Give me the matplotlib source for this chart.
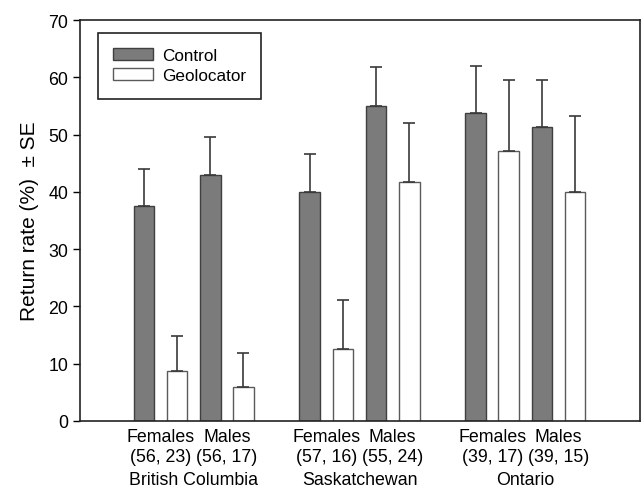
import numpy as np
import matplotlib.pyplot as plt

plt.rcParams['font.family'] = ['Liberation Sans', 'DejaVu Sans']

# ------------------- data -------------------
regions = ['British Columbia', 'Saskatchewan', 'Ontario']
sex_labels = ['Females', 'Males', 'Females', 'Males', 'Females', 'Males']
sample_sizes = ['(56, 23)', '(56, 17)', '(57, 16)', '(55, 24)', '(39, 17)', '(39, 15)']

control = [37.5, 42.9, 40.0, 55.0, 53.8, 51.4]
control_se = [6.5, 6.7, 6.6, 6.8, 8.2, 8.1]
geolocator = [8.7, 6.0, 12.6, 41.7, 47.1, 40.0]
geolocator_se = [6.1, 5.9, 8.5, 10.3, 12.5, 13.2]

# ------------------- layout -------------------
# two pairs per region, one empty slot between regions
pair_start = np.array([0, 2, 5, 7, 10, 12])
x_ctrl = pair_start
x_geo = pair_start + 1
width = 0.62
fs = 12.8

fig = plt.figure(figsize=(6.42, 4.89), dpi=100)
ax = fig.add_axes([80 / 642, 1 - 422 / 489, 560 / 642, 401 / 489])

err_kw = dict(ecolor='#3a3a3a', elinewidth=1.2, capsize=4.5, capthick=1.2)

ax.bar(x_ctrl, control, width, color='#7b7b7b', edgecolor='#3f3f3f', linewidth=1,
       yerr=[np.zeros(len(control)), control_se], error_kw=err_kw, label='Control', zorder=2)
ax.bar(x_geo, geolocator, width, color='white', edgecolor='#5a5a5a', linewidth=1,
       yerr=[np.zeros(len(geolocator)), geolocator_se], error_kw=err_kw, label='Geolocator', zorder=2)

ax.set_xlim(-1.93, 14.96)
ax.set_ylim(0, 70)
ax.set_yticks(np.arange(0, 71, 10))
ax.tick_params(axis='y', labelsize=fs, length=5, width=1, direction='out')

ax.set_xticks(pair_start + 0.5)
ax.set_xticklabels([f'{s}\n{n}' for s, n in zip(sex_labels, sample_sizes)], fontsize=fs,
                   linespacing=1.2)
ax.tick_params(axis='x', length=0, pad=5)

for i, name in enumerate(regions):
    xc = (pair_start[2 * i] + pair_start[2 * i + 1] + 1) / 2
    ax.text(xc, -0.147, name, transform=ax.get_xaxis_transform(), ha='center', va='center',
            fontsize=fs)

for sp in ax.spines.values():
    sp.set_linewidth(1.2)
    sp.set_color('#222222')

ax.set_ylabel('Return rate (%)  \u00b1 SE', fontsize=15, labelpad=7)

leg = ax.legend(loc='upper left', bbox_to_anchor=(0.032, 0.968), borderaxespad=0,
                fontsize=12.3, fancybox=False, edgecolor='#222222', framealpha=1,
                handlelength=2.3, handleheight=0.7, handletextpad=0.55,
                borderpad=0.9, labelspacing=0.3)
leg.get_frame().set_linewidth(1.2)

fig.savefig('out.png', dpi=100)
